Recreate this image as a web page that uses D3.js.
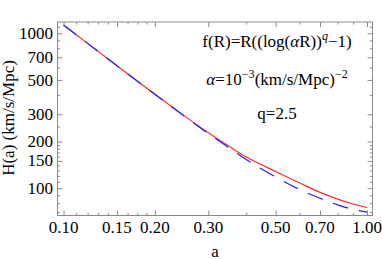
<!DOCTYPE html>
<html>
<head>
<meta charset="utf-8">
<script src="https://cdn.jsdelivr.net/npm/d3@7"></script>
<style>
  body { margin: 0; background: #fff; }
  text { font-family: "Liberation Serif", "DejaVu Serif", serif; fill: #000; }
</style>
</head>
<body>
<svg id="chart" width="382" height="259"></svg>
<script>
// scale factor a and H(a) in km/s/Mpc
const aVals  = [0.10, 0.12, 0.15, 0.20, 0.25, 0.30, 0.35, 0.40, 0.50, 0.60, 0.70, 0.80, 0.90, 1.00]
const hModel = [1130, 861, 617, 404, 293, 228, 187, 159, 128, 108, 94, 85, 79, 75]   // red, f(R)
const hLcdm  = [1130, 861, 617, 404, 292, 225, 183, 153, 118, 98, 86, 78, 73, 70]    // blue dashed

const xTicks      = [0.10, 0.15, 0.20, 0.30, 0.50, 0.70, 1.00]
const xTickLabels = ["0.10", "0.15", "0.20", "0.30", "0.50", "0.70", "1.00"]
const xMinor      = [0.11, 0.12, 0.13, 0.14, 0.1625, 0.175, 0.1875, 0.4, 0.6, 0.8, 0.9]
const yTicks      = [100, 150, 200, 300, 500, 700, 1000]
const yMinor      = [70, 80, 90, 110, 120, 130, 140, 160, 170, 180, 190, 250, 400, 600, 800, 900, 1100]

const plot = {left: 57.5, right: 372.5, top: 22, bottom: 215.5}

const svg = d3.select("#chart")

let x = d3.scaleLog().domain([0.0955, 1.0426]).range([plot.left, plot.right])
let y = d3.scaleLog().domain([66.6, 1183]).range([plot.bottom, plot.top])

// curves first, blue on top of red like the original
let line = d3.line()
	.x(d => x(d[0]))
	.y(d => y(d[1]))
	.curve(d3.curveCatmullRom)

svg.append("path")
	.attr("d", line(aVals.map((a, i) => [a, hModel[i]])))
	.style("fill", "none")
	.style("stroke", "#ff2a2a")
	.style("stroke-width", 1.2)

svg.append("path")
	.attr("d", line(aVals.map((a, i) => [a, hLcdm[i]])))
	.style("fill", "none")
	.style("stroke", "#2020ff")
	.style("stroke-width", 1.2)
	.attr("stroke-dasharray", "16 11")

// frame
const frameColor = "#8a8a8a"
svg.append("rect")
	.attr("x", plot.left).attr("y", plot.top)
	.attr("width", plot.right - plot.left)
	.attr("height", plot.bottom - plot.top)
	.style("fill", "none")
	.style("stroke", frameColor)
	.style("stroke-width", 1)

// inward ticks on all four sides, drawn with d3 axes
function tickAxis(axisFn, scale, vals, len, transform){
	svg.append("g")
		.attr("transform", transform)
		.call(axisFn(scale).tickValues(vals).tickSize(len).tickFormat(""))
		.call(g => g.select(".domain").remove())
		.call(g => g.selectAll("line").style("stroke", frameColor))
}
let yMinorIn = yMinor.filter(v => v > 66.6 && v < 1183)
tickAxis(d3.axisTop,    x, xTicks,   5,   `translate(0,${plot.bottom})`)
tickAxis(d3.axisTop,    x, xMinor,   2.5, `translate(0,${plot.bottom})`)
tickAxis(d3.axisBottom, x, xTicks,   5,   `translate(0,${plot.top})`)
tickAxis(d3.axisBottom, x, xMinor,   2.5, `translate(0,${plot.top})`)
tickAxis(d3.axisRight,  y, yTicks,   5,   `translate(${plot.left},0)`)
tickAxis(d3.axisRight,  y, yMinorIn, 2.5, `translate(${plot.left},0)`)
tickAxis(d3.axisLeft,   y, yTicks,   5,   `translate(${plot.right},0)`)
tickAxis(d3.axisLeft,   y, yMinorIn, 2.5, `translate(${plot.right},0)`)

// tick labels
svg.append("g").selectAll("text")
	.data(xTicks)
	.join("text")
	.attr("x", d => x(d))
	.attr("y", 232.5)
	.attr("text-anchor", "middle")
	.style("font-size", "17px")
	.text((d, i) => xTickLabels[i])

svg.append("g").selectAll("text")
	.data(yTicks)
	.join("text")
	.attr("x", 53)
	.attr("y", d => y(d) + 5.6)
	.attr("text-anchor", "end")
	.style("font-size", "17px")
	.text(d => d)

// axis titles
svg.append("text")
	.attr("x", 215).attr("y", 256.5)
	.attr("text-anchor", "middle")
	.style("font-size", "17px")
	.text("a")

svg.append("text")
	.attr("transform", "translate(14,118) rotate(-90)")
	.attr("text-anchor", "middle")
	.style("font-size", "17px")
	.text("H(a) (km/s/Mpc)")

// annotations
const cx = 277
function addLabel(yPos, parts){
	let t = svg.append("text")
		.attr("x", cx).attr("y", yPos)
		.attr("text-anchor", "middle")
		.style("font-size", "17px")
	let raised = false
	parts.forEach(p => {
		let s = t.append("tspan").text(p.t)
		if (p.sup && !raised){ s.attr("dy", -7); raised = true }
		else if (!p.sup && raised){ s.attr("dy", 7); raised = false }
		if (p.sup) s.style("font-size", "12px")
		if (p.it) s.style("font-style", "italic")
	})
}
addLabel(47, [{t: "f(R)=R((log("}, {t: "α", it: true}, {t: "R))"}, {t: "q", sup: true, it: true}, {t: "\u22121)"}])
addLabel(85, [{t: "α", it: true}, {t: "=10"}, {t: "\u22123", sup: true}, {t: "(km/s/Mpc)"}, {t: "\u22122", sup: true}])
addLabel(118.5, [{t: "q=2.5"}])
</script>
</body>
</html>
